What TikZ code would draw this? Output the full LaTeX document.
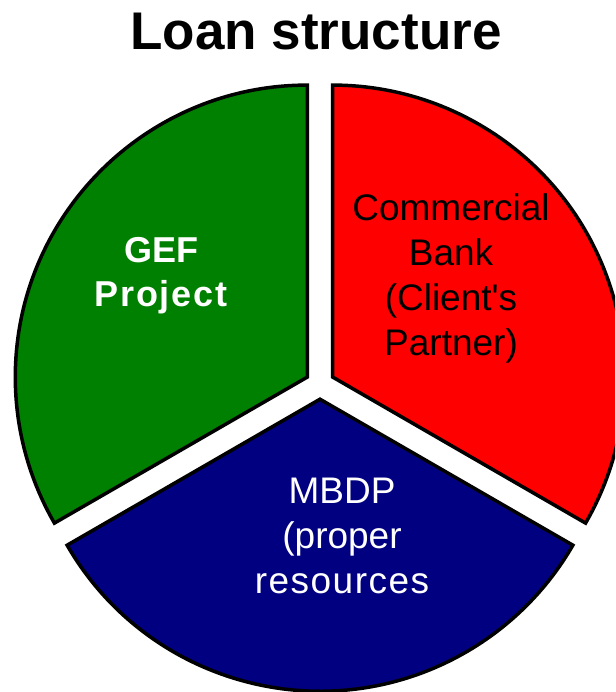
\documentclass[tikz,border=0pt]{standalone}
\usepackage{fontspec}
\setmainfont{Liberation Sans}[Ligatures=TeXOff]
\begin{document}
\begin{tikzpicture}[x=1pt,y=1pt,
  wedge/.style={draw=black,line width=3.5pt,line join=miter},
  lbl/.style={inner sep=0pt,align=center,anchor=north},
  body/.style={font=\fontsize{37}{45}\selectfont}]
\definecolor{gefgreen}{RGB}{0,128,0}
\definecolor{bankred}{RGB}{255,0,0}
\definecolor{mbdpblue}{RGB}{0,0,128}
\useasboundingbox (0,0) rectangle (615,-692);
\clip (0,0) rectangle (615,-692);
% exploded pie: apex of each slice
\coordinate (gA) at (307.3,-377.1);
\coordinate (rA) at (332.7,-377.1);
\coordinate (bA) at (320,-399.2);
\def\R{292}
\fill[gefgreen] (gA) -- ++(90:\R) arc[start angle=90,end angle=210,radius=\R] -- cycle;
\draw[wedge] (gA) -- ++(90:\R) arc[start angle=90,end angle=210,radius=\R] -- cycle;
\fill[bankred] (rA) -- ++(-30:\R) arc[start angle=-30,end angle=90,radius=\R] -- cycle;
\draw[wedge] (rA) -- ++(-30:\R) arc[start angle=-30,end angle=90,radius=\R] -- cycle;
\fill[mbdpblue] (bA) -- ++(210:\R) arc[start angle=210,end angle=330,radius=\R] -- cycle;
\draw[wedge] (bA) -- ++(210:\R) arc[start angle=210,end angle=330,radius=\R] -- cycle;
% title and slice labels
\node[inner sep=0pt,anchor=base,font=\fontsize{53}{60}\selectfont\bfseries] (title) at (316,-50) {Loan structure};
\node[lbl,text=white,font=\fontsize{36}{44}\selectfont\bfseries] (gef) at (161,-237) {GEF\\\addfontfeature{LetterSpace=5}Project};
\node[lbl,body,text=black] (bank) at (451,-193) {Commercial\\Bank\\(Client's\\Partner)};
\node[lbl,body,text=white] (mbdp) at (342,-478) {MBDP\\(proper\\\addfontfeature{LetterSpace=4}resources};
\end{tikzpicture}
\end{document}
